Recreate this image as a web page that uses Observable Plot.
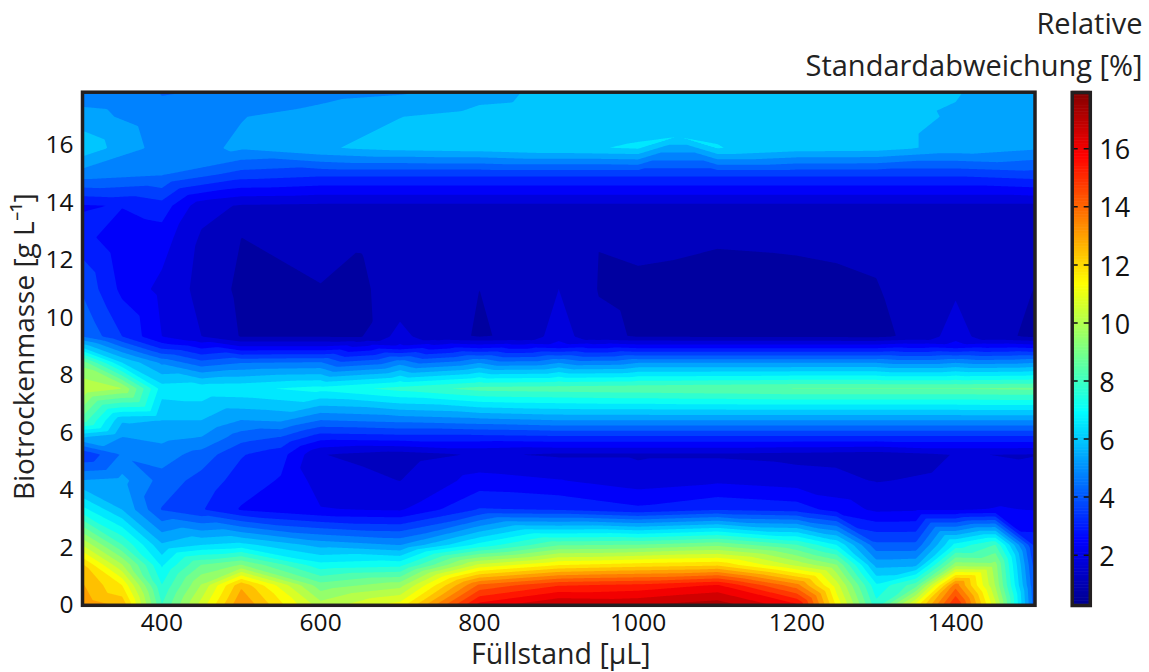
<!DOCTYPE html>
<html><head><meta charset="utf-8">
<script src="https://cdn.jsdelivr.net/npm/d3@7"></script>
<script src="https://cdn.jsdelivr.net/npm/@observablehq/plot@0.6"></script>
<style>
html,body{margin:0;padding:0;background:#fff}
#wrap{position:relative;width:1149px;height:672px;overflow:hidden}
#wrap svg{position:absolute;left:0;top:0;background:transparent}
</style></head><body><div id="wrap"></div>
<script>
const fillstand = [300,400,500,600,700,800,900,1000,1100,1200,1300,1400,1500];
const biomass = [0,0.7,1.4,2.1,3.33,4.34,5.25,5.84,6.43,7.54,8.44,9.0,9.35,11,12.8,13.9,15,15.9,17,17.85];
const r00 = [13.1,8.0,13.3,10.0,11.2,15.9,16.9,16.8,17.2,15.8,7.6,15.2,4.0];
const r01 = [12.75,7.4,12.56,8.8,9.5,14.0,15.0,15.2,15.7,13.5,6.9,13.6,3.8];
const r02 = [12.2,6.7,9.2,7.0,7.2,10.5,11.5,11.8,12.0,10.2,5.4,9.5,3.5];
const r03 = [10.3,5.7,6.4,5.4,5.0,7.0,8.5,8.6,9.0,8.0,4.0,7.0,3.0];
const r04 = [7.0,3.8,2.6,2.1,2.0,3.3,3.2,2.8,3.2,3.0,1.95,2.0,2.05];
const r05 = [5.05,4.2,3.0,1.8,1.47,2.3,2.1,1.75,1.95,1.75,1.45,1.6,1.85];
const r06 = [3.3,4.7,3.3,1.5,1.2,1.55,1.4,1.4,1.4,1.3,1.2,1.5,1.45];
const r07 = [5.6,5.2,4.1,2.9,3.0,3.0,3.1,3.1,3.1,3.1,3.1,3.1,3.1];
const r08 = [8.3,5.6,5.0,4.4,4.6,4.8,5,5,5,5,5,5,5];
const r09 = [10.3,6.5,6.65,7.0,7.6,8.2,8.3,8.4,8.5,8.6,8.6,8.6,8.7];
const r10 = [8.9,4.9,4.4,4.5,4.8,5,5,5,5,5,5,5,5];
const r10b = [6.0,3.0,2.1,2.1,2.2,2.4,2.4,2.4,2.4,2.4,2.4,2.4,2.4];
const r11 = [4.43,2.07,0.85,0.85,1.7,0.86,1.8,0.85,0.83,0.83,0.78,1.8,0.8];
const r12 = [3.75,1.9,0.75,0.88,1.0,0.89,1.48,0.8,0.75,0.78,0.86,1.38,0.88];
const r13 = [2.9,2.35,0.89,0.97,1.1,1.05,1.1,1.0,0.93,0.95,1.0,1.1,1.2];
const r14 = [2.6,3.0,1.42,1.35,1.35,1.35,1.35,1.35,1.35,1.35,1.35,1.35,1.35];
const r15 = [4.75,4.5,3.6,3.4,3.4,3.4,3.4,3.4,3.4,3.4,3.4,3.4,3.6];
const r16 = [6.0,4.75,5.1,5.55,5.8,5.9,6.12,6.25,6.23,5.9,5.85,5.4,5.1];
const r17 = [5.3,4.6,5.0,5.25,5.6,5.8,5.9,6.0,6.0,5.95,5.85,5.55,5.3];
const r18 = [4.6,4.4,4.5,4.8,4.95,5.4,5.8,5.95,6.0,5.95,5.8,5.65,5.2];
const rows = [r00,r01,r02,r03,r04,r05,r06,r07,r08,r09,r10,r10b,r11,r12,r13,r14,r15,r16,r17,r18];
// extra samples between the columns
const y350 = [0,0.7,1.4,2.1,3.33,4.34,5.25,5.84,6.43,7.54,8.44,9.35,11,12.8,13.9];
const v350 = [12.56,11.5,9.8,8.0,5.6,5.2,4.5,5.0,5.7,9.75,6.2,3.25,2.5,2.2,2.7];
const y450 = [0,0.7,1.4,2.1,3.33,4.34,5.25,5.84,6.43,7.54,9.35,11,12.8,13.9];
const v450 = [10.6,9.8,8.6,6.2,3.3,3.6,4.2,5.0,5.6,6.6,1.48,1.3,1.4,1.7];
const y550 = [4.34,5.25,5.84,6.43];
const v550 = [2.6,2.9,3.8,5.1];
const y650 = [9.35,11,12.2,12.8];
const v650 = [0.84,0.85,0.88,1.0];
const y750 = [9.35];
const v750 = [1.0];
const y850 = [9.35];
const v850 = [0.95];
const y950 = [9.35,11,12.3];
const v950 = [1.0,0.87,0.89];
const y1050 = [16.3];
const v1050 = [6.2];
const y1250 = [0,0.7,1.4,2.1,3.33];
const v1250 = [11.4,10.6,9.2,6.8,2.4];
const y1350 = [0,0.7,1.4,2.1,3.33,9.35];
const v1350 = [11.2,8.3,5.5,4.0,2.0,1.0];
const y1450 = [0,0.7,1.4,2.1,3.33,9.35];
const v1450 = [10.5,9.7,9.4,8,2.1,1.0];
const extras = [[350,y350,v350],[450,y450,v450],[550,y550,v550],[650,y650,v650],[750,y750,v750],[850,y850,v850],[950,y950,v950],[1050,y1050,v1050],[1250,y1250,v1250],[1350,y1350,v1350],[1450,y1450,v1450]];
const xTicks = [400,600,800,1000,1200,1400];
const yTicks = [0,2,4,6,8,10,12,14,16];
const barTicks = [2,4,6,8,10,12,14,16];
const jetStops = [0.26,2.47,6.89,11.31,15.73,17.94];
const jetColors = ["#00008f","#0000ff","#00ffff","#ffff00","#ff0000","#800000"];

const points = [];
rows.forEach((r,i)=>r.forEach((v,j)=>points.push({x:fillstand[j],y:biomass[i],v})));
extras.forEach(([x,ys,vs])=>vs.forEach((v,i)=>points.push({x,y:ys[i],v})));
const levels = d3.range(30).map(k=>0.3+0.59*k);
const font = "'Open Sans'";
const ink = "#231f20";

const main = Plot.plot({
  width:1149,height:672,marginLeft:82,marginRight:114.5,marginTop:91.7,marginBottom:67.2,
  style:{fontFamily:font,background:"transparent"},
  x:{domain:[300,1500]},y:{domain:[0,17.85]},
  color:{type:"linear",domain:jetStops.map(v=>v-0.3),range:jetColors},
  marks:[
    Plot.contour(points,{x:"x",y:"y",fill:"v",interpolate:"barycentric",thresholds:levels,pixelSize:1,blur:0}),
    Plot.frame({stroke:ink,strokeWidth:3.5}),
    Plot.axisX({ticks:xTicks,tickFormat:d=>String(d),tickSize:0,tickPadding:8,fontSize:24.5,fill:"#111",label:null}),
    Plot.axisY({ticks:yTicks,tickFormat:d=>String(d),tickSize:0,tickPadding:9,fontSize:24.5,fill:"#111",label:null}),
    Plot.text(["Füllstand [µL]"],{frameAnchor:"bottom",dy:50,dx:2,fontSize:28.5,fill:"#222",lineAnchor:"middle"}),
    Plot.text(["Biotrockenmasse [g L⁻¹]"],{frameAnchor:"left",dx:-57,dy:-2,rotate:-90,textAnchor:"middle",fontSize:28,fill:"#222"}),
    Plot.text(["Relative"],{frameAnchor:"top-right",dx:107.5,dy:-67,textAnchor:"end",fontSize:29,fill:"#222",lineAnchor:"middle"}),
    Plot.text(["Standardabweichung [%]"],{frameAnchor:"top-right",dx:107.5,dy:-25,textAnchor:"end",fontSize:29,fill:"#222",lineAnchor:"middle"})
  ]
});
const steps = d3.range(0.26,17.94,0.05);
const bar = Plot.plot({
  width:1149,height:672,marginLeft:1071.7,marginRight:59.2,marginTop:92,marginBottom:67,
  style:{fontFamily:font,background:"transparent"},
  x:{domain:[0,1],axis:null},y:{domain:[0.265,17.94],axis:null},
  color:{type:"linear",domain:jetStops,range:jetColors},
  marks:[
    Plot.rect(steps,{x1:0,x2:1,y1:d=>d,y2:d=>d+0.07,fill:d=>d}),
    Plot.ruleY(barTicks,{stroke:"#111",strokeWidth:1.5,strokeDasharray:"6 6 6"}),
    Plot.frame({stroke:ink,strokeWidth:3.5}),
    Plot.axisY({anchor:"right",ticks:barTicks,tickFormat:d=>String(d),tickSize:0,tickPadding:9,dy:2,fontSize:27,fill:"#111",label:null})
  ]
});
document.getElementById("wrap").append(main,bar);
</script></body></html>
